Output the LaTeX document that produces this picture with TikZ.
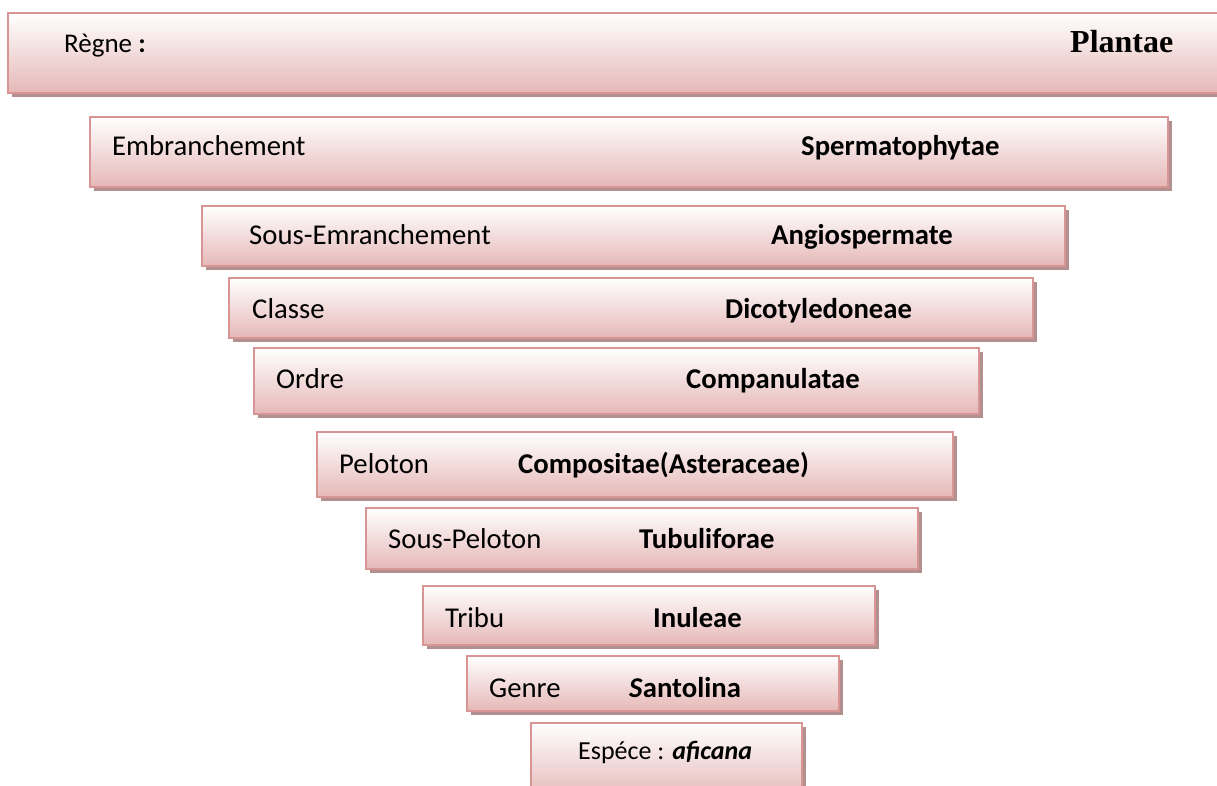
\documentclass[tikz,border=0pt]{standalone}
\usepackage{fontspec}
\setmainfont{Carlito}
\newfontfamily\timesf{Liberation Serif}
\usetikzlibrary{shadows}
\definecolor{bordc}{HTML}{D99594}
\definecolor{fillb}{HTML}{E5B8B7}
\definecolor{shadc}{HTML}{B39090}
\tikzset{
  taxbox/.style={draw=bordc, line width=2pt, top color=white, bottom color=fillb,
    drop shadow={shadow xshift=4pt, shadow yshift=-4pt, fill=shadc, opacity=1},
    inner sep=0pt, outer sep=0pt},
  lab/.style={anchor=base west, inner sep=0pt, font=\fontsize{28.7}{34}\selectfont},
  labb/.style={lab, font=\fontsize{28.7}{34}\selectfont\bfseries},
}
\begin{document}
\begin{tikzpicture}[x=1pt, y=-1pt]
\useasboundingbox (0,0) rectangle (1217,786);
\clip (0,0) rectangle (1217,786);
% boxes
\node[taxbox, minimum width=1222pt, minimum height=80pt] (b1) at (619,53) {};
\node[taxbox, minimum width=1078pt, minimum height=70pt] (b2) at (629,152) {};
\node[taxbox, minimum width=863pt, minimum height=60pt] (b3) at (633.5,236) {};
\node[taxbox, minimum width=804pt, minimum height=60pt] (b4) at (631,308) {};
\node[taxbox, minimum width=725pt, minimum height=66pt] (b5) at (616.5,381) {};
\node[taxbox, minimum width=636pt, minimum height=65pt] (b6) at (635,464.5) {};
\node[taxbox, minimum width=552pt, minimum height=61pt] (b7) at (642,538.5) {};
\node[taxbox, minimum width=452pt, minimum height=59pt] (b8) at (649,615.5) {};
\node[taxbox, minimum width=372pt, minimum height=55pt] (b9) at (653,683.5) {};
\node[taxbox, minimum width=271pt, minimum height=77pt] (b10) at (666.5,761.5) {};
% labels
\node[lab, font=\fontsize{27}{32}\selectfont] (t1) at (64,53) {Règne \textbf{:}};
\node[anchor=base west, inner sep=0pt, font=\fontsize{32}{38}\selectfont\timesf\bfseries] (v1) at (1070,53) {Plantae};
\node[lab] (t2) at (112,156) {Embranchement};
\node[labb] (v2) at (801,156) {Spermatophytae};
\node[lab] (t3) at (249,245) {Sous-Emranchement};
\node[labb] (v3) at (771,245) {Angiospermate};
\node[lab] (t4) at (252,318) {Classe};
\node[labb] (v4) at (725,318) {Dicotyledoneae};
\node[lab] (t5) at (276,388) {Ordre};
\node[labb] (v5) at (686,388) {Companulatae};
\node[lab] (t6) at (339,473) {Peloton};
\node[labb] (v6) at (518,473) {Compositae(Asteraceae)};
\node[lab] (t7) at (388,548) {Sous-Peloton};
\node[labb] (v7) at (639,548) {Tubuliforae};
\node[lab] (t8) at (445,627) {Tribu};
\node[labb] (v8) at (653,627) {Inuleae};
\node[lab] (t9) at (489,697) {Genre};
\node[labb] (v9) at (629,697) {\textit{S}antolina};
\node[lab, font=\fontsize{26}{31}\selectfont] (t10) at (578,759) {Espéce : \textbf{\textit{aficana}}};
\end{tikzpicture}
\end{document}
